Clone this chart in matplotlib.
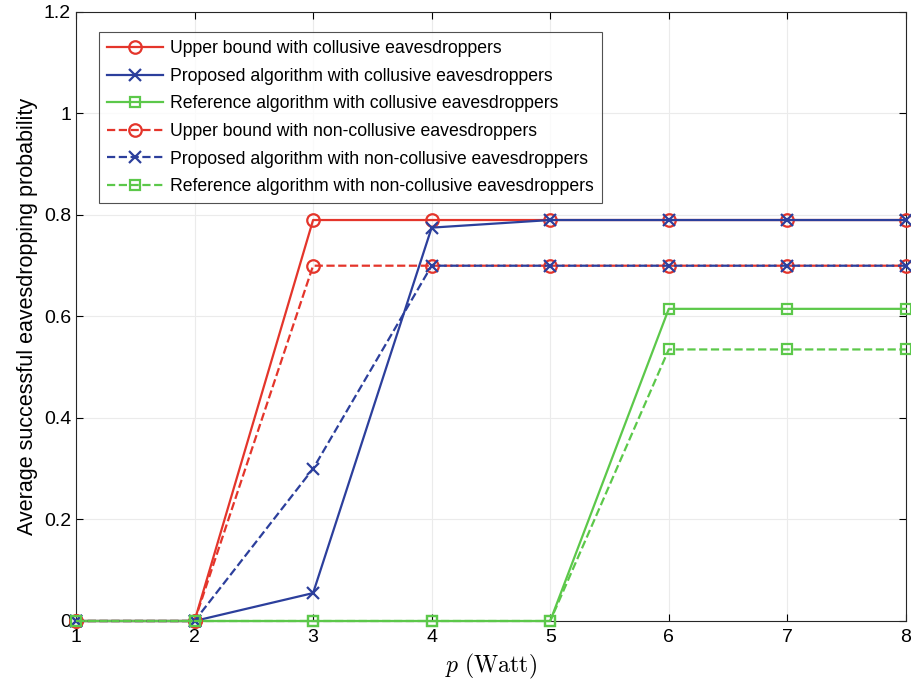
import matplotlib
matplotlib.use("Agg")
import matplotlib.pyplot as plt

plt.rcParams['font.family'] = ['Liberation Sans', 'DejaVu Sans']
plt.rcParams['mathtext.fontset'] = 'cm'

p = [1, 2, 3, 4, 5, 6, 7, 8]

upper_col = [0, 0, 0.79, 0.79, 0.79, 0.79, 0.79, 0.79]
prop_col = [0, 0, 0.055, 0.775, 0.79, 0.79, 0.79, 0.79]
ref_col = [0, 0, 0, 0, 0, 0.615, 0.615, 0.615]
upper_non = [0, 0, 0.70, 0.70, 0.70, 0.70, 0.70, 0.70]
prop_non = [0, 0, 0.30, 0.70, 0.70, 0.70, 0.70, 0.70]
ref_non = [0, 0, 0, 0, 0, 0.535, 0.535, 0.535]

labels = [
    'Upper bound with collusive eavesdroppers',
    'Proposed algorithm with collusive eavesdroppers',
    'Reference algorithm with collusive eavesdroppers',
    'Upper bound with non-collusive eavesdroppers',
    'Proposed algorithm with non-collusive eavesdroppers',
    'Reference algorithm with non-collusive eavesdroppers',
]

red = '#e4352b'
blue = '#2c3f9c'
green = '#5cc84a'

fig = plt.figure(figsize=(9.12, 6.89), dpi=100)
ax = fig.add_axes([0.0833, 0.0987, 0.91, 0.884])

series = [
    (upper_col, red, 'o', '-'),
    (prop_col, blue, 'x', '-'),
    (ref_col, green, 's', '-'),
    (upper_non, red, 'o', '--'),
    (prop_non, blue, 'x', '--'),
    (ref_non, green, 's', '--'),
]
for (y, c, m, ls), lab in zip(series, labels):
    ms = 7 if m == 's' else 9
    ax.plot(p, y, color=c, marker=m, linestyle=ls, linewidth=1.6,
            markersize=ms, markerfacecolor='none', markeredgewidth=1.6,
            label=lab, clip_on=False, zorder=3)

ax.set_xlim(1, 8)
ax.set_ylim(0, 1.2)
ax.set_xticks(p)
ax.set_yticks([0, 0.2, 0.4, 0.6, 0.8, 1.0, 1.2])
ax.set_yticklabels(['0', '0.2', '0.4', '0.6', '0.8', '1', '1.2'])
ax.tick_params(direction='in', labelsize=14, length=5, top=True, right=True)
ax.tick_params(axis='x', pad=6)
ax.grid(True, color='#ebebeb', linewidth=0.8)
ax.set_axisbelow(True)
for s in ax.spines.values():
    s.set_color('#262626')
    s.set_linewidth(0.8)

ax.set_xlabel(r'$p\ \mathrm{(Watt)}$', fontsize=17, labelpad=4)
ax.set_ylabel('Average successful eavesdropping probability', fontsize=15.5)

leg = ax.legend(loc='upper left', bbox_to_anchor=(0.0166, 0.981), fontsize=12.7,
                frameon=True, fancybox=False, edgecolor='#262626',
                handlelength=3.2, borderpad=0.45, labelspacing=0.6,
                handletextpad=0.4)
leg.get_frame().set_linewidth(0.8)

fig.savefig('out.png', dpi=100)
